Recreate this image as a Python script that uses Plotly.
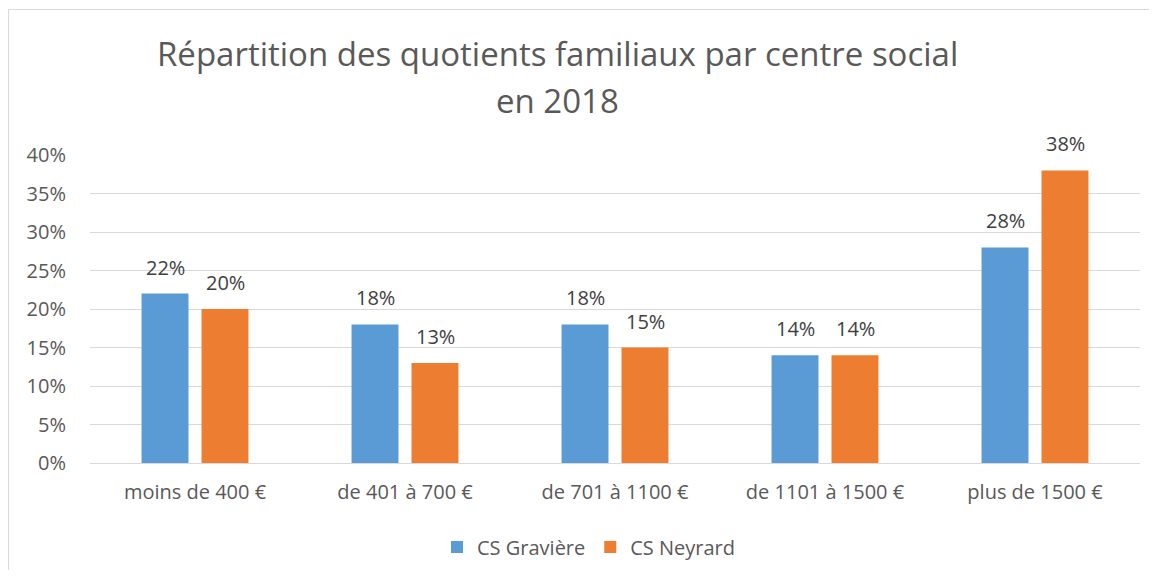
import plotly.graph_objects as go

categories = ["moins de 400 €", "de 401 à 700 €", "de 701 à 1100 €", "de 1101 à 1500 €", "plus de 1500 €"]
graviere = [22, 18, 18, 14, 28]
neyrard = [20, 13, 15, 14, 38]
series_names = ["CS Gravière", "CS Neyrard"]
colors = ["#5B9BD5", "#ED7D31"]
tick_vals = [0, 5, 10, 15, 20, 25, 30, 35, 40]
tick_text = [f"{v}%" for v in tick_vals]

FONT = "Open Sans"
O = 8  # page body margin offset
W, H = 1157 - 2 * O, 578 - 2 * O
# target screen positions of the plot area
SL, SR, ST, SB = 90, 1140, 155, 463
L, T = SL - O, ST - O
R = W - (SR - O)
B = H - (SB - O)
pw, ph = W - L - R, H - T - B


def px_x(screen_x):
    return (screen_x - O - L) / pw


def px_y(screen_y):
    return (SB - screen_y) / ph


fig = go.Figure()
annotations = []
for i, (name, vals) in enumerate(zip(series_names, [graviere, neyrard])):
    fig.add_trace(go.Bar(
        x=categories, y=vals, name=name,
        marker=dict(color=colors[i], line=dict(width=0)),
        hoverinfo="x+y+name",
    ))
    shift = -30 if i == 0 else 30
    for c, v in zip(categories, vals):
        annotations.append(dict(
            x=c, y=v, xref="x", yref="y", text=f"{v}%", showarrow=False,
            xanchor="center", yanchor="bottom", xshift=shift, yshift=11,
            font=dict(family=FONT, size=20, color="#404040"),
        ))

annotations += [
    dict(text="Répartition des quotients familiaux par centre social", x=px_x(557.5), xref="paper",
         y=px_y(54), yref="paper", showarrow=False, xanchor="center", yanchor="middle",
         font=dict(family=FONT, size=33, color="#595959")),
    dict(text="en 2018", x=px_x(557.5), xref="paper", y=px_y(100), yref="paper", showarrow=False,
         xanchor="center", yanchor="middle", font=dict(family=FONT, size=33, color="#595959")),
]

fig.update_layout(
    width=W, height=H,
    margin=dict(l=L, r=R, t=T, b=B, autoexpand=False),
    paper_bgcolor="white", plot_bgcolor="white",
    barmode="group", bargap=0.429, bargroupgap=0.217,
    font=dict(family=FONT, color="#595959"),
    showlegend=True,
    legend=dict(orientation="h", x=px_x(589), xanchor="center", y=px_y(547), yanchor="middle",
                font=dict(family=FONT, size=20, color="#595959"), traceorder="normal"),
    xaxis=dict(showgrid=False, showline=True, linecolor="#D9D9D9", linewidth=1, ticks="",
               tickfont=dict(family=FONT, size=20, color="#595959"), ticklabelstandoff=11),
    yaxis=dict(range=[0, 40], tickvals=tick_vals, ticktext=tick_text, showgrid=True,
               gridcolor="#D9D9D9", gridwidth=1, zeroline=False, showline=False, ticks="",
               tickfont=dict(family=FONT, size=20, color="#595959"), ticklabelstandoff=23),
    annotations=annotations,
    shapes=[dict(type="rect", xref="paper", yref="paper", x0=px_x(8.5), x1=px_x(1200),
                 y0=px_y(700), y1=px_y(9.5), line=dict(color="#D9D9D9", width=1), layer="below")],
)

fig.write_html("out.html")
